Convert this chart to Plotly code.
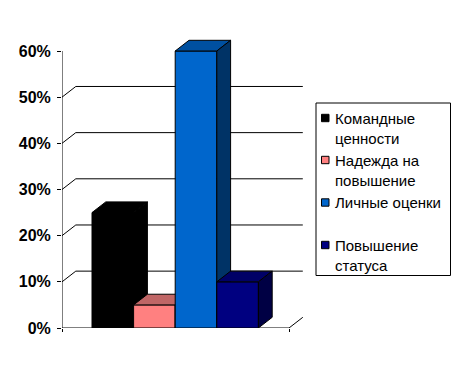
import plotly.graph_objects as go

# ---- data ----
categories = ["Командные ценности", "Надежда на повышение", "Личные оценки", "Повышение статуса"]
legend_lines = [["Командные", "ценности"], ["Надежда на", "повышение"], ["Личные оценки"], ["Повышение", "статуса"]]
values = [25, 5, 60, 10]
y_ticks = [0, 10, 20, 30, 40, 50, 60]
y_tick_labels = ["0%", "10%", "20%", "30%", "40%", "50%", "60%"]
front_colors = ["#000000", "#FF8080", "#0066CC", "#000080"]
top_colors = ["#000000", "#C06666", "#0050A0", "#000066"]
side_colors = ["#000000", "#A05050", "#003366", "#000044"]

# ---- layout constants (page pixels; page body has an 8px margin) ----
OFF = 8
W, H = 460 - OFF, 379 - OFF
PL, PT = 62, 30            # plot area left / top (page px)
PW, PH = 248, 298          # plot area width / height
PX_PER_PCT = 277 / 60.0
CAT_SPAN = 227             # x extent of category axis (px units)
BAR_START = 30
BAR_W = 41.6
DX = 13.8                  # depth offset x (px units)
DY = 10.7 / PX_PER_PCT     # depth offset y (percent units)
Y_MAX = PH / PX_PER_PCT

def px_x(px):
    return (px - PL) / PW

def px_y(py):
    return (PT + PH - py) / PH

fig = go.Figure()

def poly(xs, ys, fill, lw=1):
    fig.add_trace(go.Scatter(x=xs + [xs[0]], y=ys + [ys[0]], mode="lines", fill="toself",
                             fillcolor=fill, line=dict(color="black", width=lw),
                             hoverinfo="skip", showlegend=False))

def seg(xs, ys):
    fig.add_trace(go.Scatter(x=xs, y=ys, mode="lines", line=dict(color="black", width=1),
                             hoverinfo="skip", showlegend=False))

# back-wall gridlines and left-wall diagonals
for v in y_ticks[1:-1]:
    seg([0, DX, CAT_SPAN + DX], [v, v + DY, v + DY])
# floor right diagonal
seg([CAT_SPAN, CAT_SPAN + DX], [0, DY])
# front axes
seg([0, 0], [0, y_ticks[-1]])
seg([0, CAT_SPAN], [0, 0])

# bars
for i, (cat, v) in enumerate(zip(categories, values)):
    x0 = BAR_START + i * BAR_W
    x1 = x0 + BAR_W
    poly([x0, x1, x1, x0], [0, 0, v, v], front_colors[i])                          # front
    poly([x0, x1, x1 + DX, x0 + DX], [v, v, v + DY, v + DY], top_colors[i])        # top
    poly([x1, x1 + DX, x1 + DX, x1], [0, DY, v + DY, v], side_colors[i])           # side

# custom legend
shapes = [dict(type="rect", xref="paper", yref="paper",
               x0=px_x(316), x1=px_x(450.5), y0=px_y(103), y1=px_y(275.5),
               line=dict(color="black", width=1), fillcolor="white", layer="below")]
annotations = []
entry_y = [118, 160, 202.5, 245]
for i, lines in enumerate(legend_lines):
    cy = entry_y[i]
    shapes.append(dict(type="rect", xref="paper", yref="paper",
                       x0=px_x(321.5), x1=px_x(329), y0=px_y(cy + 3.7), y1=px_y(cy - 3.7),
                       line=dict(color="black", width=1), fillcolor=front_colors[i]))
    for j, t in enumerate(lines):
        annotations.append(dict(text=t, xref="paper", yref="paper", x=px_x(333), y=px_y(cy + 20 * j),
                                xanchor="left", yanchor="middle", showarrow=False,
                                font=dict(family="Liberation Sans, Arial", size=15, color="black")))

fig.update_layout(
    width=W, height=H,
    margin=dict(l=PL - OFF, r=W - (PL - OFF) - PW, t=PT - OFF, b=H - (PT - OFF) - PH, pad=0),
    paper_bgcolor="white", plot_bgcolor="white",
    showlegend=False,
    xaxis=dict(range=[0, PW], showgrid=False, zeroline=False, showline=False,
               tickvals=[0, CAT_SPAN], ticks="outside", ticklen=3, tickcolor="black",
               showticklabels=False, fixedrange=True),
    yaxis=dict(range=[0, Y_MAX], showgrid=False, zeroline=False, showline=False,
               tickvals=y_ticks, ticktext=y_tick_labels, ticks="outside", ticklen=4,
               tickcolor="black", tickwidth=1, ticklabelstandoff=3,
               tickfont=dict(family="Liberation Sans, Arial", size=16, color="black", weight="bold"),
               fixedrange=True),
    shapes=shapes, annotations=annotations,
)

fig.write_html("out.html")
